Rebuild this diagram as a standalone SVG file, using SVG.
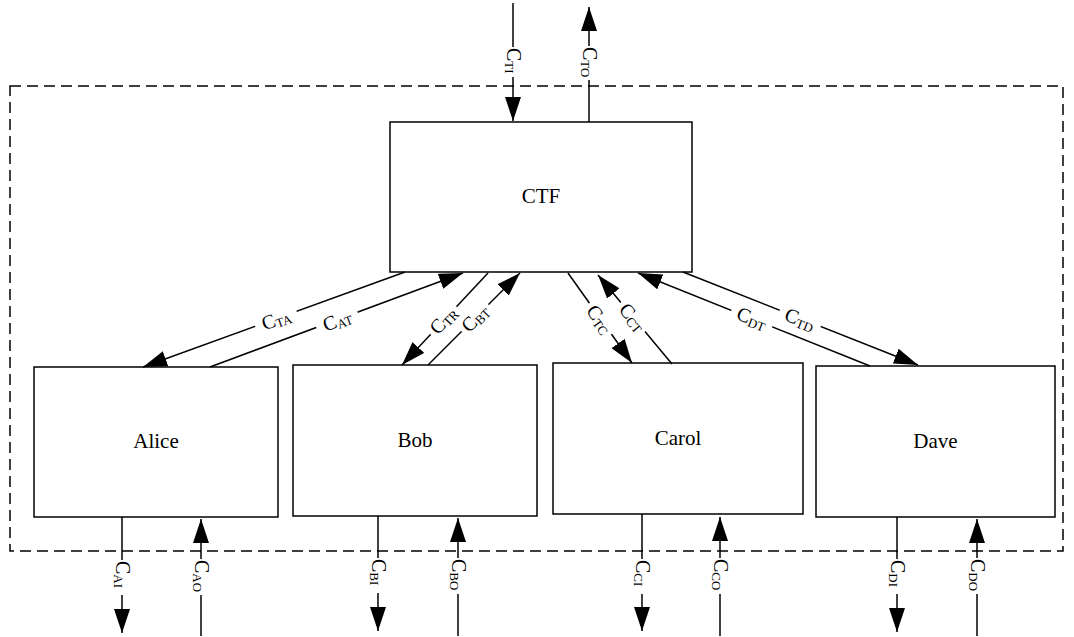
<svg xmlns="http://www.w3.org/2000/svg" width="1074" height="637" viewBox="0 0 1074 637" font-family="'Liberation Serif', 'DejaVu Serif', serif">
<style>
.box{fill:#fff;stroke:#000;stroke-width:1.5}
.frame{fill:none;stroke:#000;stroke-width:1.5;stroke-dasharray:11 6}
.ln{stroke:#000;stroke-width:1.5;fill:none;marker-end:url(#ah)}
.bg{fill:#fff;stroke:none}
text{font-family:'Liberation Serif','DejaVu Serif',serif;fill:#000}
.name{font-size:21px;text-anchor:middle}
.lb{font-size:20px}
.dl{font-size:20px;text-anchor:middle}
.sub{font-size:13px}
</style>
<defs>
<marker id="ah" markerWidth="24" markerHeight="16" refX="24" refY="8" orient="auto" markerUnits="userSpaceOnUse"><path d="M0,0 L24,8 L0,16 z" fill="#000"/></marker>
</defs>
<rect class="frame" x="10" y="86" width="1053" height="465"/>
<g id="ctf"><rect class="box" x="390" y="122" width="302" height="150"/><text class="name" x="541" y="203">CTF</text></g>
<g id="alice"><rect class="box" x="34" y="367" width="244" height="150"/><text class="name" x="156" y="448">Alice</text></g>
<g id="bob"><rect class="box" x="293" y="365" width="244" height="151"/><text class="name" x="415" y="447">Bob</text></g>
<g id="carol"><rect class="box" x="553" y="363" width="250" height="151"/><text class="name" x="678" y="445">Carol</text></g>
<g id="dave"><rect class="box" x="816" y="366" width="239" height="151"/><text class="name" x="935.5" y="448">Dave</text></g>
<g id="connectors">
<line class="ln" x1="513" y1="3" x2="513" y2="121"/>
<line class="ln" x1="589" y1="122" x2="589" y2="7"/>
<line class="ln" x1="405" y1="272" x2="143" y2="367"/>
<line class="ln" x1="210" y1="367" x2="463" y2="273"/>
<line class="ln" x1="488" y1="273" x2="402" y2="365"/>
<line class="ln" x1="428" y1="365" x2="520" y2="273"/>
<line class="ln" x1="568" y1="273" x2="632" y2="363"/>
<line class="ln" x1="672" y1="364" x2="598" y2="275"/>
<line class="ln" x1="870" y1="366" x2="638" y2="273"/>
<line class="ln" x1="683" y1="272" x2="918" y2="365"/>
<line class="ln" x1="122" y1="517" x2="122" y2="633"/>
<line class="ln" x1="201" y1="636" x2="201" y2="519"/>
<line class="ln" x1="378" y1="516" x2="378" y2="631"/>
<line class="ln" x1="458" y1="636" x2="458" y2="518"/>
<line class="ln" x1="642" y1="514" x2="642" y2="631"/>
<line class="ln" x1="720" y1="636" x2="720" y2="517"/>
<line class="ln" x1="897" y1="517" x2="897" y2="632"/>
<line class="ln" x1="977" y1="636" x2="977" y2="519"/>
</g>
<g id="labels">
<g transform="translate(513,48) rotate(90)"><rect class="bg" x="-1" y="-9" width="30" height="18"/><text class="lb" x="0" y="6">C<tspan class="sub" dy="2">TI</tspan></text></g>
<g transform="translate(589,47) rotate(90)"><rect class="bg" x="-1" y="-9" width="34" height="18"/><text class="lb" x="0" y="6">C<tspan class="sub" dy="2">TO</tspan></text></g>
<g transform="translate(122,561) rotate(90)"><rect class="bg" x="-1" y="-9" width="35" height="18"/><text class="lb" x="0" y="6">C<tspan class="sub" dy="2">AI</tspan></text></g>
<g transform="translate(201,560) rotate(90)"><rect class="bg" x="-1" y="-9" width="36" height="18"/><text class="lb" x="0" y="6">C<tspan class="sub" dy="2">AO</tspan></text></g>
<g transform="translate(378,559) rotate(90)"><rect class="bg" x="-1" y="-9" width="35" height="18"/><text class="lb" x="0" y="6">C<tspan class="sub" dy="2">BI</tspan></text></g>
<g transform="translate(458,559) rotate(90)"><rect class="bg" x="-1" y="-9" width="36" height="18"/><text class="lb" x="0" y="6">C<tspan class="sub" dy="2">BO</tspan></text></g>
<g transform="translate(642,560) rotate(90)"><rect class="bg" x="-1" y="-9" width="35" height="18"/><text class="lb" x="0" y="6">C<tspan class="sub" dy="2">CI</tspan></text></g>
<g transform="translate(720,559) rotate(90)"><rect class="bg" x="-1" y="-9" width="36" height="18"/><text class="lb" x="0" y="6">C<tspan class="sub" dy="2">CO</tspan></text></g>
<g transform="translate(897,560) rotate(90)"><rect class="bg" x="-1" y="-9" width="35" height="18"/><text class="lb" x="0" y="6">C<tspan class="sub" dy="2">DI</tspan></text></g>
<g transform="translate(977,559) rotate(90)"><rect class="bg" x="-1" y="-9" width="36" height="18"/><text class="lb" x="0" y="6">C<tspan class="sub" dy="2">DO</tspan></text></g>
<g transform="translate(276,319) rotate(-19.8)"><rect class="bg" x="-22" y="-9" width="44" height="18"/><text class="dl" x="0" y="7">C<tspan class="sub" dy="2">TA</tspan></text></g>
<g transform="translate(337,320) rotate(-20.4)"><rect class="bg" x="-22" y="-9" width="44" height="18"/><text class="dl" x="0" y="7">C<tspan class="sub" dy="2">AT</tspan></text></g>
<g transform="translate(443,320) rotate(-47.3)"><rect class="bg" x="-19" y="-9" width="38" height="18"/><text class="dl" x="0" y="7">C<tspan class="sub" dy="2">TR</tspan></text></g>
<g transform="translate(475,318) rotate(-45)"><rect class="bg" x="-19" y="-9" width="38" height="18"/><text class="dl" x="0" y="7">C<tspan class="sub" dy="2">BT</tspan></text></g>
<g transform="translate(600,319) rotate(54.6)"><rect class="bg" x="-19" y="-9" width="38" height="18"/><text class="dl" x="0" y="7">C<tspan class="sub" dy="2">TC</tspan></text></g>
<g transform="translate(633,317) rotate(50.3)"><rect class="bg" x="-19" y="-9" width="38" height="18"/><text class="dl" x="0" y="7">C<tspan class="sub" dy="2">CT</tspan></text></g>
<g transform="translate(752,318) rotate(21.6)"><rect class="bg" x="-22" y="-9" width="44" height="18"/><text class="dl" x="0" y="7">C<tspan class="sub" dy="2">DT</tspan></text></g>
<g transform="translate(800,319) rotate(21.6)"><rect class="bg" x="-22" y="-9" width="44" height="18"/><text class="dl" x="0" y="7">C<tspan class="sub" dy="2">TD</tspan></text></g>
</g>
</svg>
